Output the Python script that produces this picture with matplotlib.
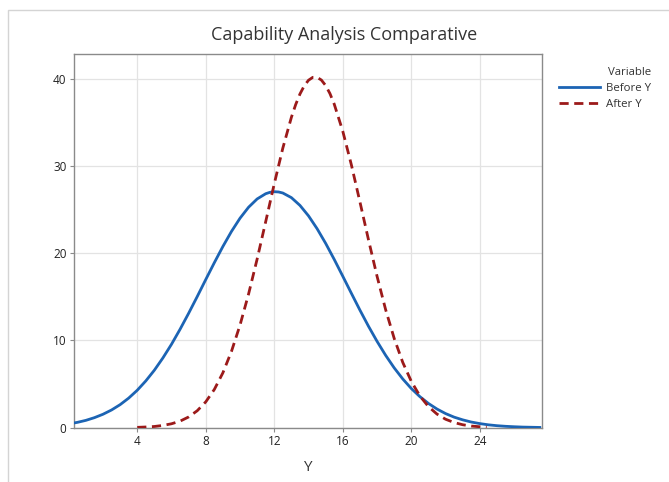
import matplotlib
matplotlib.use("Agg")
import matplotlib.pyplot as plt
from matplotlib.patches import Rectangle

# ---- data ----
before_x = [0.3, 0.5, 1.0, 1.5, 2.0, 2.5, 3.0, 3.5, 4.0, 4.5, 5.0, 5.5, 6.0, 6.5, 7.0, 7.5,
            8.0, 8.5, 9.0, 9.5, 10.0, 10.5, 11.0, 11.5, 11.75, 12.0, 12.25, 12.5, 13.0, 13.5,
            14.0, 14.5, 15.0, 15.5, 16.0, 16.5, 17.0, 17.5, 18.0, 18.5, 19.0, 19.5, 20.0,
            20.5, 21.0, 21.5, 22.0, 22.5, 23.0, 23.5, 24.0, 24.5, 25.0, 25.5, 26.0, 26.5,
            27.0, 27.5]
before_y = [0.54, 0.61, 0.84, 1.15, 1.54, 2.03, 2.64, 3.39, 4.29, 5.36, 6.59, 8.00, 9.56,
            11.28, 13.11, 15.02, 16.98, 18.91, 20.77, 22.49, 24.01, 25.27, 26.22, 26.82,
            26.98, 27.05, 27.02, 26.90, 26.37, 25.48, 24.28, 22.81, 21.13, 19.29, 17.36,
            15.41, 13.48, 11.63, 9.90, 8.30, 6.86, 5.59, 4.49, 3.56, 2.78, 2.14, 1.62, 1.21,
            0.90, 0.65, 0.47, 0.33, 0.23, 0.16, 0.11, 0.07, 0.05, 0.03]

after_x = [4.0, 4.5, 5.0, 5.5, 6.0, 6.5, 7.0, 7.5, 8.0, 8.5, 9.0, 9.5, 10.0, 10.5, 11.0,
           11.5, 12.0, 12.5, 13.0, 13.25, 13.5, 13.75, 14.0, 14.25, 14.5, 14.75, 15.0, 15.25,
           15.5, 16.0, 16.5, 17.0, 17.5, 18.0, 18.5, 19.0, 19.5, 20.0, 20.5, 21.0, 21.5,
           22.0, 22.5, 23.0, 23.5, 24.0, 24.4]
after_y = [0.04, 0.08, 0.14, 0.26, 0.45, 0.75, 1.23, 1.94, 2.96, 4.38, 6.29, 8.74, 11.76,
           15.32, 19.33, 23.62, 27.96, 32.05, 35.58, 37.04, 38.25, 39.19, 39.83, 40.16,
           40.16, 39.85, 39.22, 38.30, 37.09, 33.98, 30.14, 25.89, 21.54, 17.36, 13.54,
           10.24, 7.49, 5.31, 3.64, 2.42, 1.56, 0.97, 0.59, 0.34, 0.19, 0.11, 0.06]

series_labels = ["Before Y", "After Y"]
x_ticks = [4, 8, 12, 16, 20, 24]
y_ticks = [0, 10, 20, 30, 40]
title_text = "Capability Analysis Comparative"
x_label = "Y"
legend_title = "Variable"

plt.rcParams['font.family'] = ['Open Sans', 'DejaVu Sans']

W, H = 669, 482
fig = plt.figure(figsize=(W / 100, H / 100), dpi=100)
fig.patch.set_facecolor("white")

# outer light border of the chart image
fig.add_artist(Rectangle((8 / W, -0.2), 1.2, 1.2 - 9.5 / H, transform=fig.transFigure,
                         fill=False, edgecolor="#d4d4d4", linewidth=1.0, clip_on=False))

ax = fig.add_axes([73.5 / W, 1 - 427.7 / H, (541.5 - 73.5) / W, (427.7 - 54.3) / H])

blue = "#1c64b4"
red = "#9c1a1a"
ax.plot(before_x, before_y, color=blue, lw=2.0, label=series_labels[0],
        solid_joinstyle="round", zorder=3)
ln, = ax.plot(after_x, after_y, color=red, lw=2.0, label=series_labels[1],
              dash_joinstyle="round", zorder=3)
ln.set_dashes((3.3, 2.0))

ax.set_xlim(0.28, 27.6)
ax.set_ylim(0, 42.8)
ax.set_xticks(x_ticks)
ax.set_yticks(y_ticks)
ax.grid(True, color="#e3e3e3", linewidth=0.9, zorder=0)
ax.set_axisbelow(True)
for s in ax.spines.values():
    s.set_color("#8a8a8a")
    s.set_linewidth(1.0)
ax.tick_params(axis="both", colors="#8a8a8a", labelcolor="#222222", labelsize=8.5,
               length=3, width=0.8, pad=2)

ax.set_xlabel(x_label, fontsize=11, color="#333333", labelpad=9)

fig.text(344 / W, 1 - 35 / H, title_text, ha="center", va="center", fontsize=13,
         color="#333333")

leg = fig.legend(loc="upper left", bbox_to_anchor=(551 / W, 1 - 59 / H), frameon=False,
                 title=legend_title, fontsize=8.2, title_fontsize=8.2, alignment="right",
                 handlelength=3.6, handletextpad=0.5, labelspacing=0.45, borderpad=0.2)
for t in leg.get_texts():
    t.set_color("#333333")
leg.get_title().set_color("#333333")

fig.savefig("out.png", dpi=100)
